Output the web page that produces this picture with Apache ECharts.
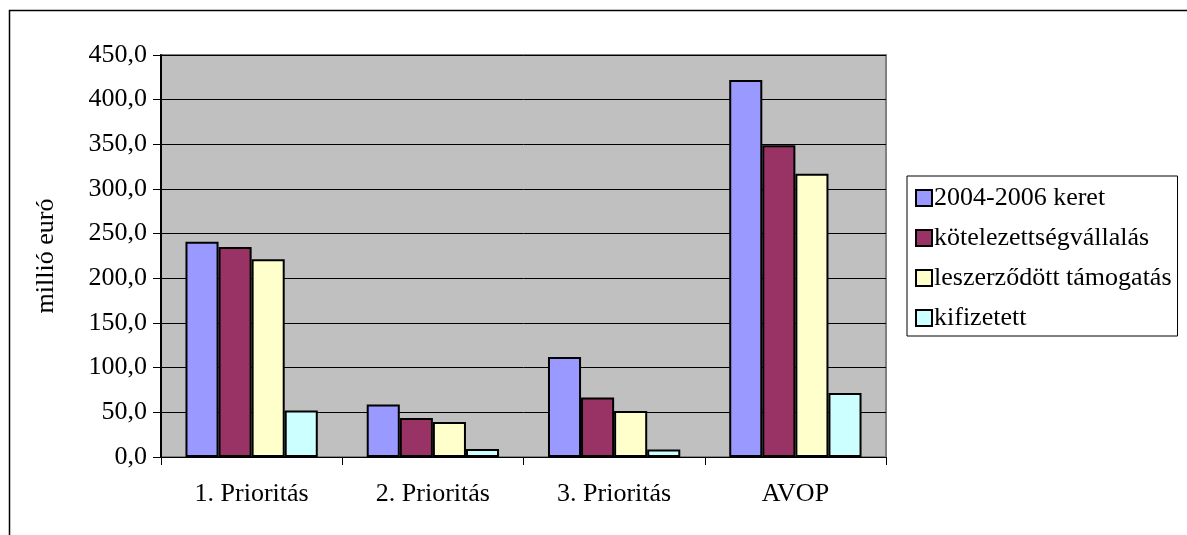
<!DOCTYPE html>
<html>
<head>
<meta charset="utf-8">
<script src="https://cdn.jsdelivr.net/npm/echarts@6/dist/echarts.min.js"></script>
<style>
    html, body { margin: 0; padding: 0; background: #fff; }
    #chart_main { width: 1187px; height: 535px; }
</style>
</head>
<body>
<div id="chart_main"></div>
<script>
// kategóriák és sorozatok
var categories = ['1. Prioritás', '2. Prioritás', '3. Prioritás', 'AVOP'];
var seriesNames = ['2004-2006 keret', 'kötelezettségvállalás', 'leszerződött támogatás', 'kifizetett'];
var keret = [241.0, 58.7, 112.0, 422.0];
var kotelezettseg = [235.0, 43.7, 66.5, 349.0];
var leszerzodott = [221.5, 39.2, 51.5, 317.0];
var kifizetett = [52.0, 9.0, 8.3, 71.7];
var yTicks = [0, 50, 100, 150, 200, 250, 300, 350, 400, 450];

var colors = ['#9999ff', '#993366', '#ffffcc', '#ccffff'];
var values = [keret, kotelezettseg, leszerzodott, kifizetett];
var serif = 'Liberation Serif';

var myChart = echarts.init(document.getElementById('chart_main'));

var series = [];
for (var i = 0; i < seriesNames.length; i++) {
    series.push({
        name: seriesNames[i],
        type: 'bar',
        data: values[i],
        barGap: 0,
        barCategoryGap: '27%',
        itemStyle: {
            color: colors[i],
            borderColor: '#000',
            borderWidth: 2
        }
    });
}

var option = {
    animation: false,
    graphic: [
        {
            type: 'rect',
            shape: { x: 9.5, y: 10.5, width: 1300, height: 700 },
            style: { fill: 'none', stroke: '#000', lineWidth: 1.5 },
            z: -1
        }
    ],
    grid: {
        left: 161,
        top: 55,
        right: 301,
        bottom: 78,
        show: true,
        backgroundColor: '#c0c0c0',
        borderColor: '#808080',
        borderWidth: 2
    },
    legend: {
        orient: 'vertical',
        left: 907,
        top: 176,
        itemWidth: 16,
        itemHeight: 16,
        itemGap: 10,
        padding: [7, 6, 3, 8],
        borderColor: '#000',
        borderWidth: 1,
        backgroundColor: '#fff',
        icon: 'rect',
        itemStyle: { borderColor: '#000', borderWidth: 2 },
        textStyle: { fontFamily: serif, fontSize: 26, lineHeight: 30, color: '#000', padding: [0, 0, 0, -3] },
        data: seriesNames
    },
    xAxis: {
        type: 'category',
        data: categories,
        axisLine: { lineStyle: { color: '#000', width: 1 } },
        axisTick: { show: true, length: 8, lineStyle: { color: '#000' } },
        axisLabel: { fontFamily: serif, fontSize: 26, color: '#000', margin: 24 }
    },
    yAxis: {
        type: 'value',
        min: 0,
        max: 450,
        interval: 50,
        name: 'millió euró',
        nameLocation: 'middle',
        nameGap: 102,
        nameTextStyle: { fontFamily: serif, fontSize: 26, color: '#000' },
        axisLine: { show: true, lineStyle: { color: '#000', width: 2 } },
        axisTick: { show: true, length: 8, lineStyle: { color: '#000' } },
        splitLine: { show: true, lineStyle: { color: '#000', width: 1 } },
        axisLabel: {
            fontFamily: serif,
            fontSize: 26,
            color: '#000',
            margin: 14,
            formatter: function (v) {
                return yTicks.indexOf(v) >= 0 ? v.toFixed(1).replace('.', ',') : '';
            }
        }
    },
    series: series
};
myChart.setOption(option);
</script>
</body>
</html>
